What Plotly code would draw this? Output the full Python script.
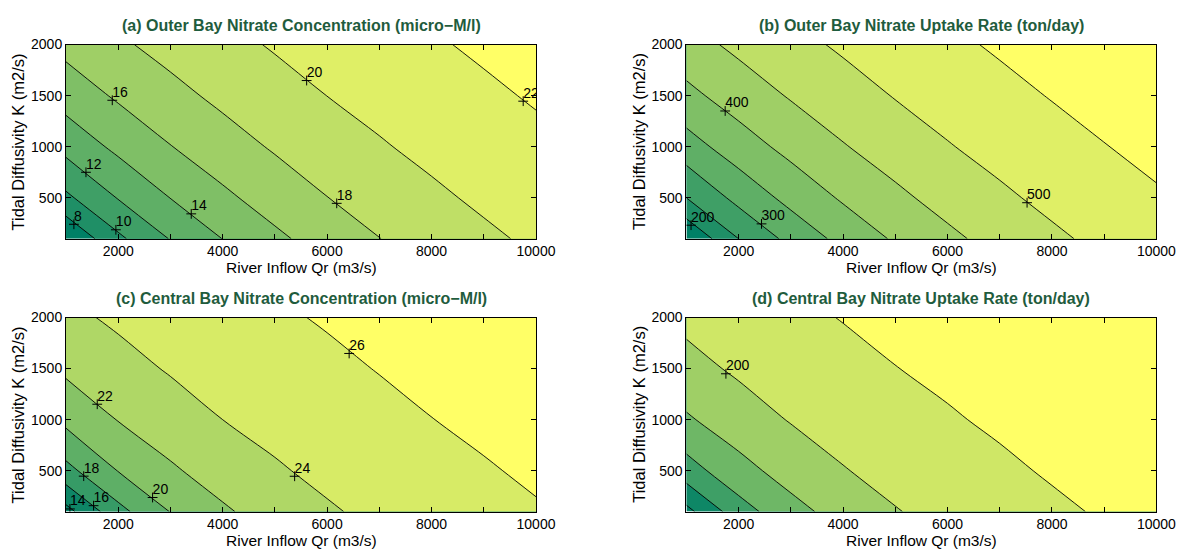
import plotly.graph_objects as go

# ---------------- data ----------------
qr = [1000, 2000, 3000, 4000, 5000, 6000, 7000, 8000, 9000, 10000]   # River inflow Qr (m3/s)
kd = [100, 500, 1000, 1500, 2000]                                     # Tidal diffusivity K (m2/s)

# (a) Outer Bay nitrate concentration (micro-M/l)
z_a = [
    [6.03, 9.61, 12.10, 14.03, 15.60, 16.88, 17.97, 18.86, 19.65, 20.33],
    [9.61, 12.10, 14.03, 15.60, 16.88, 17.97, 18.86, 19.65, 20.33, 20.91],
    [12.63, 14.46, 15.94, 17.17, 18.20, 19.07, 19.83, 20.48, 21.05, 21.57],
    [14.86, 16.27, 17.44, 18.43, 19.27, 20.01, 20.62, 21.18, 21.69, 22.17],
    [16.58, 17.71, 18.65, 19.46, 20.17, 20.77, 21.31, 21.81, 22.28, 22.71],
]
# (b) Outer Bay nitrate uptake rate (ton/day)
z_b = [
    [152.2, 250.2, 315.0, 365.1, 406.1, 439.4, 467.4, 491.5, 511.7, 529.1],
    [250.2, 315.0, 365.1, 406.1, 439.4, 467.4, 491.5, 511.7, 529.1, 544.8],
    [328.6, 376.2, 415.0, 446.9, 473.7, 497.1, 516.2, 533.1, 548.5, 562.6],
    [386.8, 423.5, 454.0, 479.8, 502.3, 520.6, 537.1, 552.2, 566.0, 578.8],
    [431.6, 460.8, 485.8, 507.0, 524.9, 541.0, 555.7, 569.3, 581.8, 593.5],
]
# (c) Central Bay nitrate concentration (micro-M/l)
z_c = [
    [13.31, 17.39, 20.06, 21.73, 22.88, 23.79, 24.45, 24.98, 25.46, 25.88],
    [17.39, 20.06, 21.73, 22.88, 23.79, 24.45, 24.98, 25.46, 25.88, 26.21],
    [20.52, 22.07, 23.12, 24.00, 24.59, 25.11, 25.57, 25.98, 26.29, 26.56],
    [22.36, 23.36, 24.16, 24.73, 25.23, 25.67, 26.06, 26.36, 26.63, 26.88],
    [23.58, 24.31, 24.86, 25.34, 25.78, 26.14, 26.43, 26.69, 26.94, 27.17],
]
# (d) Central Bay nitrate uptake rate (ton/day)
z_d = [
    [114.2, 151.4, 173.3, 187.96, 199.01, 206.23, 212.18, 217.35, 221.49, 224.65],
    [151.4, 173.3, 187.96, 199.01, 206.23, 212.18, 217.35, 221.49, 224.65, 227.51],
    [177.58, 190.95, 201.11, 207.80, 213.54, 218.55, 222.31, 225.39, 228.19, 230.75],
    [193.78, 202.89, 209.31, 214.85, 219.71, 223.11, 226.11, 228.85, 231.36, 233.69],
    [204.59, 210.77, 216.12, 220.65, 223.89, 226.82, 229.50, 231.96, 234.24, 236.36],
]

# contour levels (start, end, step)
levels_a = (8, 22, 2)
levels_b = (200, 550, 50)
levels_c = (14, 26, 2)
levels_d = (120, 220, 20)

# positions in the "summer" colormap of each filled band (lowest band first)
bands_a = [0.0, 0.123, 0.249, 0.374, 0.499, 0.625, 0.750, 0.875, 1.0]
bands_b = [0.0, 0.120, 0.246, 0.372, 0.497, 0.623, 0.749, 0.874, 1.0]
bands_c = [0.0, 0.054, 0.212, 0.370, 0.527, 0.685, 0.842, 1.0]
bands_d = [0.0, 0.055, 0.244, 0.433, 0.622, 0.811, 1.0]

# inline contour labels
lab_a_q = [1151, 1955, 1382, 3398, 1886, 6184, 5608, 9755]
lab_a_k = [241, 187, 750, 343, 1455, 446, 1648, 1446]
lab_a_t = ["8", "10", "12", "14", "16", "18", "20", "22"]
lab_b_q = [1088, 2438, 1742, 7523]
lab_b_k = [232, 245, 1350, 452]
lab_b_t = ["200", "300", "400", "500"]
lab_c_q = [1075, 1528, 1339, 2658, 1598, 5378, 6422]
lab_c_k = [126, 158, 447, 238, 1151, 446, 1648]
lab_c_t = ["14", "16", "18", "20", "22", "24", "26"]
lab_d_q = [1756]
lab_d_k = [1449]
lab_d_t = ["200"]

titles = [
    "(a) Outer Bay Nitrate Concentration (micro\u2212M/l)",
    "(b) Outer Bay Nitrate Uptake Rate (ton/day)",
    "(c) Central Bay Nitrate Concentration (micro\u2212M/l)",
    "(d) Central Bay Nitrate Uptake Rate (ton/day)",
]
xlabel = "River Inflow Qr (m3/s)"
ylabel = "Tidal Diffusivity K (m2/s)"
xtick_vals = [2000, 3000, 4000, 5000, 6000, 7000, 8000, 9000, 10000]
xtick_text = ["2000", "", "4000", "", "6000", "", "8000", "", "10000"]
ytick_vals = [500, 1000, 1500, 2000]
ytick_text = ["500", "1000", "1500", "2000"]

# ---------------- styling / layout ----------------
OFF = 8                      # default page margin of the html body
W, H = 1201 - OFF, 552 - OFF  # figure size so that the page fills the window
FONT = "Liberation Sans, Arial, Helvetica, sans-serif"
TITLE_COLOR = "#1f5c3d"


def summer(t):
    return "rgb(%d,%d,%d)" % (round(255 * t), round(127.5 + 127.5 * t), 102)


def band_scale(bands):
    n = len(bands) - 1
    return [[j / n, summer(b)] for j, b in enumerate(bands)]


def px(xp):
    return (xp - OFF) / W


def py(yp):
    return 1 - (yp - OFF) / H


# plot boxes in window pixels: left, right, top, bottom
boxes = [
    (67, 545, 37, 234),
    (698, 1176, 37, 234),
    (67, 545, 314, 511),
    (698, 1176, 314, 511),
]

panels = [
    (z_a, levels_a, bands_a, lab_a_q, lab_a_k, lab_a_t),
    (z_b, levels_b, bands_b, lab_b_q, lab_b_k, lab_b_t),
    (z_c, levels_c, bands_c, lab_c_q, lab_c_k, lab_c_t),
    (z_d, levels_d, bands_d, lab_d_q, lab_d_k, lab_d_t),
]

fig = go.Figure()
annotations = []
for i, ((z, lev, bands, lq, lk, lt), (l, r, t, b)) in enumerate(zip(panels, boxes)):
    sfx = "" if i == 0 else str(i + 1)
    xa, ya = "x" + sfx, "y" + sfx
    fig.add_trace(go.Contour(
        x=qr, y=kd, z=z, xaxis=xa, yaxis=ya,
        autocontour=False,
        contours=dict(start=lev[0], end=lev[1], size=lev[2],
                      coloring="fill", showlines=True),
        line=dict(color="black", width=0.9),
        colorscale=band_scale(bands), showscale=False, hoverinfo="skip",
    ))
    fig.add_trace(go.Scatter(
        x=lq, y=lk, xaxis=xa, yaxis=ya, mode="markers",
        marker=dict(symbol="cross-thin", size=7, color="black",
                    line=dict(color="black", width=1)),
        showlegend=False, hoverinfo="skip",
    ))
    fig.add_trace(go.Scatter(
        x=lq, y=lk, text=lt, xaxis=xa, yaxis=ya, mode="text",
        textposition="top right",
        textfont=dict(family=FONT, size=14, color="black"),
        showlegend=False, hoverinfo="skip",
    ))
    axis_common = dict(
        showline=True, linecolor="black", linewidth=1, mirror="allticks",
        ticks="inside", ticklen=5, tickwidth=1, tickcolor="black",
        showgrid=False, zeroline=False,
        tickfont=dict(family=FONT, size=14, color="black"),
    )
    fig.layout["xaxis" + sfx] = dict(
        axis_common, domain=[px(l), px(r)], range=[1000, 10000],
        anchor=ya, tickmode="array", tickvals=xtick_vals, ticktext=xtick_text,
    )
    fig.layout["yaxis" + sfx] = dict(
        axis_common, domain=[py(b), py(t)], range=[100, 2000],
        anchor=xa, tickmode="array", tickvals=ytick_vals, ticktext=ytick_text,
    )
    cx = px((l + r) / 2)
    annotations.append(dict(
        text="<b>%s</b>" % titles[i], x=cx, y=py(t - 19),
        xref="paper", yref="paper", xanchor="center", yanchor="middle",
        showarrow=False, font=dict(family=FONT, size=16, color=TITLE_COLOR),
    ))
    annotations.append(dict(
        text=xlabel, x=cx, y=py(b + 29),
        xref="paper", yref="paper", xanchor="center", yanchor="middle",
        showarrow=False, font=dict(family=FONT, size=15.5, color="black"),
    ))
    annotations.append(dict(
        text=ylabel, x=px(l - 49), y=py((t + b) / 2), textangle=-90,
        xref="paper", yref="paper", xanchor="center", yanchor="middle",
        showarrow=False, font=dict(family=FONT, size=16.5, color="black"),
    ))

fig.update_layout(
    width=W, height=H, margin=dict(l=0, r=0, t=0, b=0),
    paper_bgcolor="white", plot_bgcolor="white", showlegend=False,
    annotations=annotations,
)

fig.write_html("out.html")
